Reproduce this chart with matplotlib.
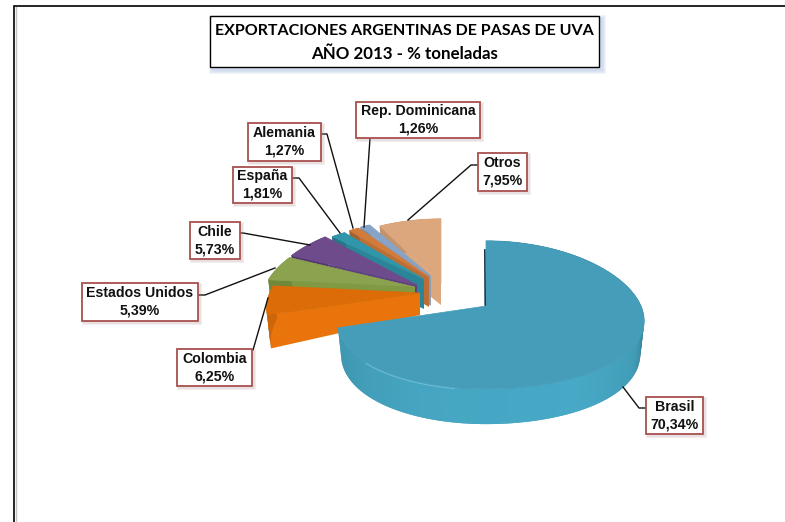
import numpy as np
import matplotlib
matplotlib.use('Agg')
import matplotlib.pyplot as plt
from matplotlib.patches import Polygon, Rectangle

# data
countries = ['Brasil', 'Colombia', 'Estados Unidos', 'Chile', 'España',
             'Alemania', 'Rep. Dominicana', 'Otros']
shares = [70.34, 6.25, 5.39, 5.73, 1.81, 1.27, 1.26, 7.95]
title_lines = ['EXPORTACIONES ARGENTINAS DE PASAS DE UVA', 'AÑO 2013 - % toneladas']

# colours: top face, side face
top_colors = ['#469DBA', '#DB6C08', '#8BA24E', '#6E4C8C', '#2F96AB', '#D27B3A', '#86A3C8', '#DCA77C']
side_colors = ['#47A9C6', '#E8740B', '#7F9A42', '#5F3F80', '#2B8598', '#BC6E34', '#8E9DB5', '#DCA77C']

# slice layout, pixels
tips_x = [486, 420, 415, 417, 424, 429, 431, 441]
tips_y = [306, 293, 287, 285, 279, 277, 276, 284]
tip_depth = [22, 22, 22, 22, 30, 30, 30, 21]
radius_scale = [1.0, 0.97, 0.97, 0.97, 0.97, 0.97, 0.97, 0.97]
radius_y_scale = [1.0, 1.0, 1.0, 1.0, 0.88, 0.88, 0.88, 1.0]
left_squeeze = [0.94, 1, 1, 1, 1, 1, 1, 1]
RX = 155
RY = 73
PERSP_X = 0.2
PERSP_Y = 0.12
DEPTH = 33


def project(theta, r, tip, i, z=0.0):
    t = np.radians(theta)
    sin_t, cos_t = np.sin(t), np.cos(t)
    sx = 1.0 / (1.0 + PERSP_X * r * cos_t)
    sy = 1.0 / (1.0 + PERSP_Y * r * cos_t)
    squeeze = np.where(sin_t < 0, left_squeeze[i], 1.0)
    dx = RX * radius_scale[i] * squeeze * r * sin_t * sx
    # the bottom ring sits a little further away
    x = tip[0] + dx * (1 - 0.025 * z / DEPTH)
    y = tip[1] - RY * radius_y_scale[i] * r * cos_t * sy + z * np.sqrt(sy)
    return x, y


# label boxes: left, right, top, bottom
boxes = [(646, 703, 397, 434), (177, 252, 349, 386), (82, 198, 283, 321), (190, 240, 222, 259),
         (233, 292, 167, 203), (248, 321, 123, 161), (356, 480, 102, 138), (478, 527, 153, 191)]
leaders = [[(646, 408), (639, 408), (623, 387)],
           [(253, 350), (268, 298)],
           [(198, 295), (205, 295), (275, 268)],
           [(240, 233), (243, 233), (310, 245)],
           [(292, 178), (299, 178), (340, 233)],
           [(321, 134), (327, 134), (353, 228)],
           [(370, 138), (364, 227)],
           [(478, 165), (471, 165), (408, 220)]]


def shade(color, f):
    rgb = np.array(matplotlib.colors.to_rgb(color)) * f
    return tuple(np.clip(rgb, 0, 1))


def draw_slice(ax, i, a0, a1):
    tip = (tips_x[i], tips_y[i])
    thetas = np.linspace(a0, a1, 160)
    step = thetas[1] - thetas[0]
    bottom_tip = (tip[0], tip[1] + tip_depth[i])

    # cut face on the start side
    if i > 0:
        face = [tip, project(a0, 1, tip, i), project(a0, 1, tip, i, DEPTH), bottom_tip]
        ax.add_patch(Polygon(face, fc=side_colors[i], ec='none', zorder=2))

    # outer wall, darker towards the right hand end. Quads overlap so no seams show
    for t0 in thetas[:-1]:
        t1 = min(t0 + 2 * step, a1)
        f = np.interp(t0, [90, 100, 118, 150, 200, 253, 360], [0.5, 0.72, 0.92, 1.0, 0.98, 0.88, 0.88])
        quad = [project(t0, 1, tip, i), project(t1, 1, tip, i),
                project(t1, 1, tip, i, DEPTH), project(t0, 1, tip, i, DEPTH)]
        ax.add_patch(Polygon(quad, fc=shade(side_colors[i], f), ec='none', zorder=2))

    # top face
    pts = [tip] + [project(t, 1, tip, i) for t in thetas]
    ax.add_patch(Polygon(pts, fc=top_colors[i], ec=top_colors[i], lw=0.5, zorder=2))

    if i == 0:
        # bevel highlight along the front and dark cut at the back
        hl = np.linspace(190, 225, 30)
        hx, hy = project(hl, 1, tip, i)
        ax.plot(hx, hy + 1, color='#7CC6DA', lw=0.8, alpha=0.7, zorder=2)
        ax.plot([tip[0] - 0.8, tip[0] - 1.2], [tip[1] - 1, tip[1] - 56], color='#1C3B47', lw=1.2, zorder=2)


def draw_shadow(ax, x0, x1, y0, y1, color, size, offset):
    for k in range(size, 0, -1):
        ax.add_patch(Rectangle((x0 + offset - k, y0 + offset - k), x1 - x0 + 2 * k, y1 - y0 + 2 * k,
                               fc=color, ec='none', alpha=0.14, zorder=3))


fig = plt.figure(figsize=(7.85, 5.22), dpi=100)
ax = fig.add_axes([0, 0, 1, 1])
ax.set_xlim(0, 785)
ax.set_ylim(522, 0)
ax.axis('off')

# outer frame, only top and left show
ax.plot([15.5, 15.5], [7, 522], color='#C4C4C4', lw=1.0, zorder=1)
ax.plot([14, 14, 785], [522, 6, 6], color='black', lw=1.2, zorder=1, solid_joinstyle='miter')

# pie, from the back slice to the front one
edges = 3.6 * np.concatenate([[0], np.cumsum(shares)])
for i in list(range(len(shares) - 1, 0, -1)) + [0]:
    draw_slice(ax, i, edges[i], edges[i + 1])

# leaders
for pts in leaders:
    xs, ys = zip(*pts)
    ax.plot(xs, ys, color='#111111', lw=1.0, zorder=3)

# labels
for name, val, (x0, x1, y0, y1) in zip(countries, shares, boxes):
    draw_shadow(ax, x0, x1, y0, y1, '#B09090', 2, 2)
    ax.add_patch(Rectangle((x0, y0), x1 - x0, y1 - y0, fc='white', ec='#A94F4F', lw=1.3, zorder=4))
    txt = name + '\n' + f'{val:.2f}'.replace('.', ',') + '%'
    ax.text((x0 + x1) / 2, (y0 + y1) / 2, txt, ha='center', va='center', family='Liberation Sans',
            weight='bold', fontsize=10.2, color='#111111', linespacing=1.3, zorder=5)

# title
draw_shadow(ax, 210, 599, 16, 67, '#9DB8DC', 4, 3)
ax.add_patch(Rectangle((210, 16), 389, 51, fc='white', ec='black', lw=1.0, zorder=4))
ax.text(404.5, 31, title_lines[0], ha='center', va='center', family='Lato', weight='bold',
        fontsize=11.5, color='black', zorder=5)
ax.text(404.5, 54, title_lines[1], ha='center', va='center', family='Lato', weight='bold',
        fontsize=12.2, color='black', zorder=5)

plt.savefig('out.png', dpi=100)
